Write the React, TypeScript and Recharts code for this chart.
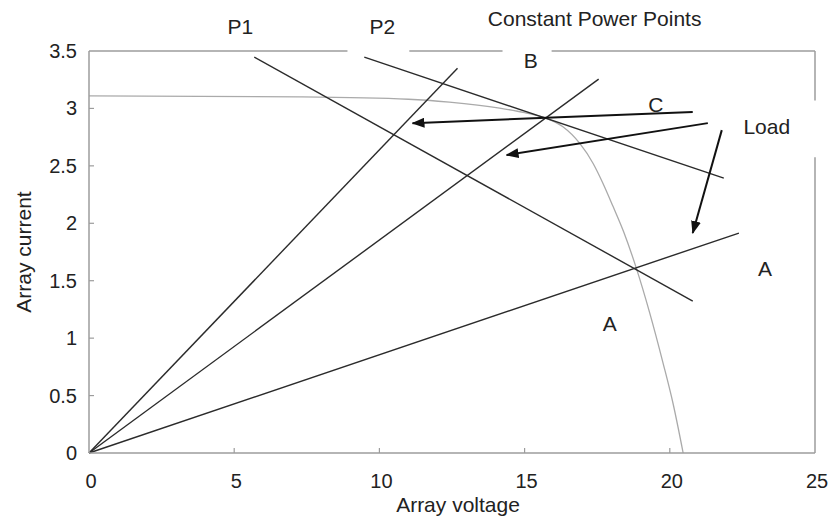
import { ComposedChart, Line, XAxis, YAxis, ReferenceLine, ReferenceDot } from 'recharts';

const xTicks = [0, 5, 10, 15, 20, 25];
const yTicks = [0, 0.5, 1, 1.5, 2, 2.5, 3, 3.5];

// array I-V characteristic (grey curve)
const ivVoltage = [0, 7.24, 11.0, 12.41, 14.14, 15.0, 15.75, 16.32, 16.9, 17.36, 17.7, 18.04, 18.42, 18.85, 19.31, 19.77, 20.11, 20.46];
const ivCurrent = [3.11, 3.1, 3.08, 3.055, 3.003, 2.963, 2.913, 2.84, 2.695, 2.521, 2.347, 2.15, 1.92, 1.607, 1.218, 0.781, 0.433, 0];

// resistive load lines from the origin, end points
const loadVoltage = [12.69, 17.55, 22.38];
const loadCurrent = [3.35, 3.255, 1.915];

// constant power lines P1, P2 (start, end)
const powerVoltage = [[5.69, 20.79], [9.48, 21.86]];
const powerCurrent = [[3.447, 1.323], [3.447, 2.393]];

// arrows (start, tip)
const arrowVoltage = [[20.79, 11.14], [21.31, 14.38], [21.79, 20.79]];
const arrowCurrent = [[2.968, 2.872], [2.872, 2.594], [2.811, 1.915]];

// annotations
const noteText = ['P1', 'P2', 'Constant Power Points', 'B', 'C', 'Load', 'A', 'A'];
const noteVoltage = [5.21, 10.1, 17.41, 15.21, 19.52, 23.34, 23.28, 17.93];
const noteCurrent = [3.71, 3.71, 3.786, 3.42, 3.037, 2.846, 1.61, 1.131];

const FONT = '"Liberation Sans", Arial, Helvetica, sans-serif';
const AXIS = '#9c9c9c';
const INK = '#2b2b2b';

const pts = (xs: number[], ys: number[]) => xs.map((x, i) => ({ x, y: ys[i] }));

const ivData = pts(ivVoltage, ivCurrent);
const loadData = loadVoltage.map((v, i) => pts([0, v], [0, loadCurrent[i]]));
const powerData = powerVoltage.map((v, i) => pts(v, powerCurrent[i]));
const arrowData = arrowVoltage.map((v, i) => pts(v, arrowCurrent[i]));

const BottomTick = (props: any) => {
  const { x, y, payload } = props;
  const v = payload.value;
  return (
    <g>
      {v > 0 && v < 25 && <line x1={x} y1={y} x2={x} y2={y - 5} stroke={AXIS} strokeWidth={1.2} />}
      <text x={x + 2} y={y + 35} textAnchor="middle" fontSize={20} fill="#222" fontFamily={FONT}>
        {v}
      </text>
    </g>
  );
};

const LeftTick = (props: any) => {
  const { x, y, payload } = props;
  const v = payload.value;
  return (
    <g>
      {v > 0 && v < 3.5 && <line x1={x} y1={y} x2={x + 5} y2={y} stroke={AXIS} strokeWidth={1.2} />}
      <text x={x - 12} y={y + 7} textAnchor="end" fontSize={20} fill="#222" fontFamily={FONT}>
        {v}
      </text>
    </g>
  );
};

const TopTick = (props: any) => (
  <line x1={props.x} y1={props.y} x2={props.x} y2={props.y + 5} stroke={AXIS} strokeWidth={1.2} />
);

const RightTick = (props: any) => (
  <line x1={props.x} y1={props.y} x2={props.x - 5} y2={props.y} stroke={AXIS} strokeWidth={1.2} />
);

export default function App() {
  return (
    <div style={{ position: 'fixed', left: 0, top: 0, width: 831, height: 519, background: '#fff' }}>
      <ComposedChart
        width={831}
        height={519}
        margin={{ top: 51, right: 16, bottom: 0, left: 8 }}
        style={{ fontFamily: FONT, overflow: 'visible' }}
      >
        <defs>
          <marker
            id="arrowHead"
            viewBox="0 0 13 10"
            refX="12"
            refY="5"
            markerWidth="13"
            markerHeight="10"
            markerUnits="userSpaceOnUse"
            orient="auto"
          >
            <path d="M0,0 L13,5 L0,10 z" fill="#111" />
          </marker>
        </defs>
        <XAxis
          type="number"
          dataKey="x"
          domain={[0, 25]}
          ticks={xTicks}
          height={66}
          axisLine={{ stroke: AXIS, strokeWidth: 1.5 }}
          tickLine={false}
          tickSize={0}
          tickMargin={0}
          tick={<BottomTick />}
          label={{ value: 'Array voltage', position: 'insideBottom', offset: 7, dx: 6, fill: '#222', fontSize: 21 }}
        />
        <XAxis
          xAxisId="top"
          orientation="top"
          type="number"
          domain={[0, 25]}
          ticks={[5, 20]}
          height={0}
          axisLine={false}
          tickLine={false}
          tickSize={0}
          tickMargin={0}
          tick={<TopTick />}
        />
        <YAxis
          type="number"
          domain={[0, 3.5]}
          ticks={yTicks}
          width={81}
          axisLine={{ stroke: AXIS, strokeWidth: 1.5 }}
          tickLine={false}
          tickSize={0}
          tickMargin={0}
          tick={<LeftTick />}
          label={{
            value: 'Array current',
            angle: -90,
            position: 'insideLeft',
            offset: 16,
            fill: '#222',
            fontSize: 21,
            style: { textAnchor: 'middle' },
          }}
        />
        <YAxis
          yAxisId="right"
          orientation="right"
          type="number"
          domain={[0, 3.5]}
          ticks={[0.5, 1, 1.5, 2, 2.5]}
          width={0}
          axisLine={false}
          tickLine={false}
          tickSize={0}
          tickMargin={0}
          tick={<RightTick />}
        />

        {/* frame: top and right border, with the gaps of the original */}
        <ReferenceLine segment={[{ x: 0, y: 3.5 }, { x: 8.9, y: 3.5 }]} stroke={AXIS} strokeWidth={1.5} ifOverflow="visible" />
        <ReferenceLine segment={[{ x: 11.03, y: 3.5 }, { x: 14.24, y: 3.5 }]} stroke={AXIS} strokeWidth={1.5} ifOverflow="visible" />
        <ReferenceLine segment={[{ x: 15.93, y: 3.5 }, { x: 25, y: 3.5 }]} stroke={AXIS} strokeWidth={1.5} ifOverflow="visible" />
        <ReferenceLine segment={[{ x: 25, y: 3.5 }, { x: 25, y: 3.07 }]} stroke={AXIS} strokeWidth={1.5} ifOverflow="visible" />
        <ReferenceLine segment={[{ x: 25, y: 2.576 }, { x: 25, y: 0 }]} stroke={AXIS} strokeWidth={1.5} ifOverflow="visible" />

        <Line
          data={ivData}
          dataKey="y"
          type="monotone"
          stroke="#aaaaaa"
          strokeWidth={1.3}
          dot={false}
          activeDot={false}
          isAnimationActive={false}
        />
        {loadData.map((d, i) => (
          <Line
            key={'load' + i}
            data={d}
            dataKey="y"
            type="linear"
            stroke={INK}
            strokeWidth={1.4}
            dot={false}
            activeDot={false}
            isAnimationActive={false}
          />
        ))}
        {powerData.map((d, i) => (
          <Line
            key={'power' + i}
            data={d}
            dataKey="y"
            type="linear"
            stroke={INK}
            strokeWidth={1.4}
            dot={false}
            activeDot={false}
            isAnimationActive={false}
          />
        ))}
        {arrowData.map((d, i) => (
          <Line
            key={'arrow' + i}
            data={d}
            dataKey="y"
            type="linear"
            stroke="#111"
            strokeWidth={2}
            dot={false}
            activeDot={false}
            markerEnd="url(#arrowHead)"
            isAnimationActive={false}
          />
        ))}

        {noteText.map((t, i) => (
          <ReferenceDot
            key={'note' + i}
            x={noteVoltage[i]}
            y={noteCurrent[i]}
            r={0}
            ifOverflow="visible"
            shape={(p: any) => (
              <text
                x={p.cx}
                y={p.cy}
                textAnchor="middle"
                dominantBaseline="central"
                fontSize={21}
                fill="#222"
                fontFamily={FONT}
              >
                {t}
              </text>
            )}
          />
        ))}
      </ComposedChart>
    </div>
  );
}
